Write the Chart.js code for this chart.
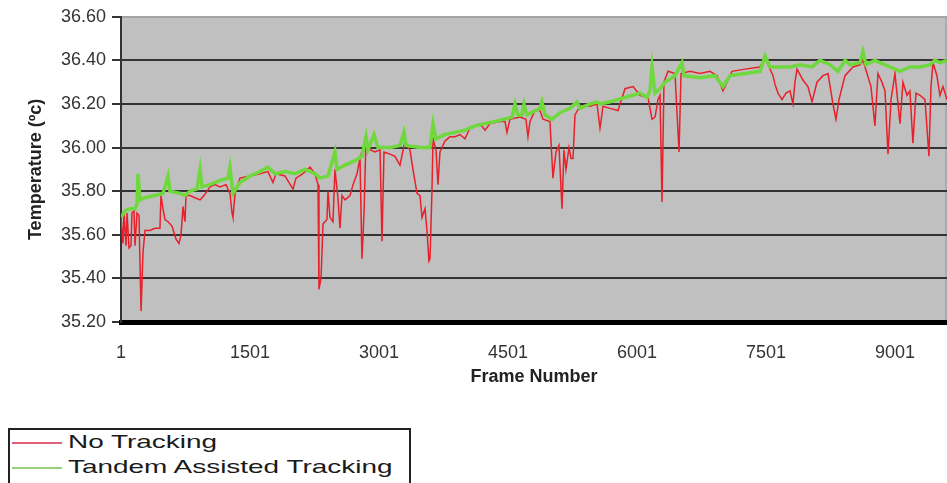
<!DOCTYPE html>
<html>
<head>
<meta charset="utf-8">
<script src="https://cdn.jsdelivr.net/npm/chart.js@4.4.0/dist/chart.umd.min.js"></script>
<style>
  body { margin: 0; background: #fff; overflow: hidden; font-family: "Liberation Sans", Arial, sans-serif; }
  #wrap { position: relative; width: 947px; height: 400px; }
  #legend { position: absolute; left: 8px; top: 428px; width: 399px; height: 70px; border: 2px solid #222; background: #fff; }
  .item { position: relative; height: 25px; }
  .item .swatch { position: absolute; left: 2px; top: 12px; width: 50px; height: 0; border-top: 2px solid; }
  .item .txt { position: absolute; left: 58px; top: 1px; font-size: 19px; line-height: 22px; color: #1a1a1a; transform: scaleX(1.47); transform-origin: left center; white-space: nowrap; }
</style>
</head>
<body>
<div id="wrap"><canvas id="myChart"></canvas></div>
<div id="legend"></div>
<script>
// frame numbers and temperatures
const xTickValues = [1, 1501, 3001, 4501, 6001, 7501, 9001];

const noTrackingFrames = [1, 24, 36, 59, 71, 94, 117, 129, 152, 164, 187, 210, 234, 257, 280, 338, 396, 454, 466, 489,
  513, 548, 594, 641, 675, 699, 722, 745, 757, 803, 862, 920, 966, 1036, 1094, 1152, 1222, 1268, 1292, 1303,
  1327, 1385, 1501, 1617, 1710, 1768, 1803, 1908, 2001, 2036, 2117, 2199, 2257, 2292, 2303, 2327, 2350, 2396, 2408, 2431,
  2466, 2489, 2524, 2547, 2571, 2606, 2664, 2699, 2745, 2780, 2803, 2827, 2850, 2897, 2955, 3013, 3036, 3059, 3129, 3187,
  3245, 3303, 3361, 3396, 3443, 3478, 3501, 3536, 3559, 3582, 3594, 3617, 3629, 3664, 3687, 3710, 3768, 3827, 3885, 3943,
  4001, 4059, 4175, 4234, 4292, 4408, 4466, 4489, 4524, 4641, 4710, 4733, 4757, 4815, 4873, 4908, 4989, 5024, 5059, 5094,
  5129, 5152, 5175, 5210, 5234, 5257, 5280, 5338, 5455, 5536, 5571, 5606, 5687, 5780, 5862, 5955, 6036, 6129, 6176, 6211,
  6245, 6269, 6292, 6315, 6362, 6443, 6490, 6513, 6618, 6734, 6850, 6932, 7001, 7048, 7106, 7257, 7432, 7490, 7525, 7583,
  7606, 7641, 7687, 7734, 7780, 7815, 7838, 7862, 7931, 7989, 8036, 8094, 8164, 8222, 8280, 8315, 8350, 8420, 8513, 8594,
  8629, 8676, 8722, 8768, 8803, 8850, 8885, 8920, 8955, 9001, 9059, 9094, 9141, 9175, 9210, 9245, 9292, 9350, 9396, 9420,
  9443, 9489, 9524, 9559, 9606];
const noTrackingTemps = [35.68, 35.56, 35.70, 35.55, 35.70, 35.54, 35.55, 35.70, 35.71, 35.55, 35.70, 35.69, 35.25, 35.52, 35.62, 35.62, 35.63, 35.63, 35.78, 35.72,
  35.67, 35.66, 35.64, 35.58, 35.56, 35.60, 35.73, 35.66, 35.78, 35.78, 35.77, 35.76, 35.78, 35.82, 35.83, 35.82, 35.83, 35.79, 35.70, 35.68,
  35.79, 35.86, 35.87, 35.88, 35.89, 35.84, 35.88, 35.87, 35.81, 35.86, 35.88, 35.91, 35.88, 35.83, 35.35, 35.40, 35.65, 35.67, 35.80, 35.68,
  35.66, 35.90, 35.77, 35.63, 35.78, 35.76, 35.78, 35.83, 35.88, 35.95, 35.49, 35.70, 36.04, 35.99, 35.98, 35.99, 35.57, 35.98, 35.97, 35.96,
  35.92, 36.03, 35.99, 35.90, 35.79, 35.78, 35.68, 35.72, 35.62, 35.48, 35.49, 35.80, 36.04, 35.99, 35.83, 35.98, 36.03, 36.05, 36.05, 36.06,
  36.04, 36.09, 36.11, 36.08, 36.11, 36.12, 36.12, 36.07, 36.13, 36.14, 36.13, 36.05, 36.12, 36.17, 36.17, 36.13, 36.12, 35.86, 35.98, 36.01,
  35.72, 35.99, 35.90, 36.00, 35.95, 35.95, 36.15, 36.19, 36.19, 36.20, 36.09, 36.19, 36.18, 36.17, 36.27, 36.28, 36.24, 36.23, 36.13, 36.14,
  36.22, 36.24, 35.75, 36.30, 36.35, 36.34, 35.98, 36.34, 36.35, 36.34, 36.35, 36.33, 36.26, 36.30, 36.35, 36.36, 36.37, 36.41, 36.38, 36.33,
  36.29, 36.25, 36.22, 36.25, 36.26, 36.20, 36.30, 36.36, 36.31, 36.28, 36.21, 36.30, 36.33, 36.34, 36.20, 36.13, 36.22, 36.33, 36.37, 36.38,
  36.40, 36.34, 36.28, 36.10, 36.34, 36.30, 36.26, 35.97, 36.22, 36.34, 36.11, 36.30, 36.24, 36.26, 36.02, 36.25, 36.24, 36.22, 35.96, 36.28,
  36.39, 36.33, 36.24, 36.28, 36.22];

const tandemFrames = [1, 48, 106, 164, 187, 199, 222, 280, 396, 489, 548, 571, 687, 745, 803, 885, 920, 943, 1036, 1152,
  1245, 1268, 1303, 1385, 1501, 1617, 1710, 1792, 1908, 2024, 2140, 2257, 2315, 2408, 2489, 2513, 2606, 2722, 2803, 2850,
  2873, 2943, 2989, 3129, 3245, 3292, 3315, 3478, 3594, 3629, 3664, 3768, 3885, 4001, 4117, 4234, 4350, 4548, 4583, 4617,
  4664, 4687, 4722, 4873, 4896, 4931, 5013, 5106, 5222, 5303, 5338, 5455, 5536, 5571, 5687, 5862, 6036, 6118, 6152, 6176,
  6211, 6269, 6327, 6443, 6524, 6548, 6734, 6908, 7001, 7083, 7257, 7432, 7490, 7548, 7780, 7897, 8036, 8129, 8245, 8338,
  8420, 8478, 8594, 8629, 8664, 8768, 8943, 9059, 9175, 9292, 9408, 9466, 9524, 9606];
const tandemTemps = [35.68, 35.71, 35.72, 35.72, 35.74, 35.88, 35.76, 35.77, 35.78, 35.79, 35.87, 35.80, 35.79, 35.78, 35.80, 35.81, 35.90, 35.82, 35.83, 35.85,
  35.86, 35.91, 35.79, 35.84, 35.87, 35.89, 35.91, 35.88, 35.89, 35.88, 35.90, 35.88, 35.86, 35.87, 35.98, 35.90, 35.92, 35.94, 35.96, 36.05,
  35.99, 36.06, 36.00, 36.00, 36.01, 36.07, 36.01, 36.00, 36.00, 36.11, 36.04, 36.06, 36.07, 36.08, 36.10, 36.11, 36.12, 36.14, 36.20, 36.15,
  36.15, 36.20, 36.15, 36.18, 36.21, 36.15, 36.13, 36.16, 36.18, 36.21, 36.18, 36.20, 36.21, 36.20, 36.21, 36.23, 36.25, 36.23, 36.26, 36.37,
  36.25, 36.27, 36.30, 36.33, 36.39, 36.33, 36.32, 36.33, 36.28, 36.33, 36.34, 36.35, 36.42, 36.37, 36.37, 36.38, 36.37, 36.40, 36.38, 36.35,
  36.40, 36.38, 36.39, 36.44, 36.38, 36.40, 36.37, 36.35, 36.37, 36.37, 36.38, 36.40, 36.39, 36.40];

const seriesNames = ["No Tracking", "Tandem Assisted Tracking"];
const seriesColors = ["#e8202a", "#6fd83c"];
const legendColors = ["#e0607a", "#9ad07a"];

function toPoints(frames, temps) {
  return frames.map((f, i) => ({ x: f, y: temps[i] }));
}

// grey plot background + thin light border on top/right
const plotBackground = {
  id: "plotBackground",
  beforeDraw(chart) {
    const { ctx, chartArea } = chart;
    ctx.save();
    ctx.fillStyle = "#c0c0c0";
    ctx.fillRect(chartArea.left, chartArea.top, chartArea.right - chartArea.left, chartArea.bottom - chartArea.top);
    ctx.strokeStyle = "#a4a4a4";
    ctx.lineWidth = 1.5;
    ctx.beginPath();
    ctx.moveTo(chartArea.left, chartArea.top);
    ctx.lineTo(chartArea.right - 1, chartArea.top);
    ctx.lineTo(chartArea.right - 1, chartArea.bottom);
    ctx.stroke();
    ctx.restore();
  }
};

function drawChart() {
  const ctx = document.getElementById("myChart");
  new Chart(ctx, {
    type: "line",
    data: {
      datasets: [
        {
          label: seriesNames[0],
          data: toPoints(noTrackingFrames, noTrackingTemps),
          borderColor: seriesColors[0],
          borderWidth: 1.5,
          pointRadius: 0,
          order: 1
        },
        {
          label: seriesNames[1],
          data: toPoints(tandemFrames, tandemTemps),
          borderColor: seriesColors[1],
          borderWidth: 3.5,
          pointRadius: 0,
          order: 0
        }
      ]
    },
    options: {
      responsive: true,
      maintainAspectRatio: false,
      animation: false,
      layout: { padding: { top: 14, right: 0, left: 0, bottom: 0 } },
      plugins: {
        legend: { display: false },
        tooltip: { enabled: false }
      },
      scales: {
        x: {
          type: "linear",
          min: 1,
          max: 9606,
          afterBuildTicks: scale => {
            scale.ticks = xTickValues.map(v => ({ value: v }));
          },
          afterFit: scale => { scale.height = 78; },
          grid: { display: false, drawTicks: false },
          border: { display: true, color: "#000", width: 5 },
          ticks: {
            padding: 20,
            color: "#333",
            font: { family: "Liberation Sans", size: 18 },
            maxRotation: 0,
            autoSkip: false,
            callback: v => String(v)
          },
          title: {
            display: true,
            text: "Frame Number",
            color: "#222",
            font: { family: "Liberation Sans", size: 18, weight: "bold" },
            padding: { top: 0, bottom: 12 }
          }
        },
        y: {
          min: 35.2,
          max: 36.6,
          afterFit: scale => { scale.width = 121; },
          grid: {
            color: c => (c.tick && c.tick.value >= 36.59 ? "#a4a4a4" : "#333"),
            lineWidth: 2,
            tickLength: 9,
            tickColor: "#333"
          },
          border: { display: true, color: "#333", width: 2 },
          ticks: {
            stepSize: 0.2,
            padding: 6,
            color: "#333",
            font: { family: "Liberation Sans", size: 18 },
            callback: v => Number(v).toFixed(2)
          },
          title: {
            display: true,
            text: "Temperature (ºc)",
            color: "#222",
            font: { family: "Liberation Sans", size: 18, weight: "bold" },
            padding: { top: 25, bottom: 0 }
          }
        }
      }
    },
    plugins: [plotBackground]
  });
}

function drawLegend() {
  const box = document.getElementById("legend");
  seriesNames.forEach((name, i) => {
    const row = document.createElement("div");
    row.className = "item";
    row.innerHTML = '<span class="swatch" style="border-color:' + legendColors[i] + '"></span><span class="txt">' + name + "</span>";
    box.appendChild(row);
  });
}

drawChart();
drawLegend();
</script>
</body>
</html>
